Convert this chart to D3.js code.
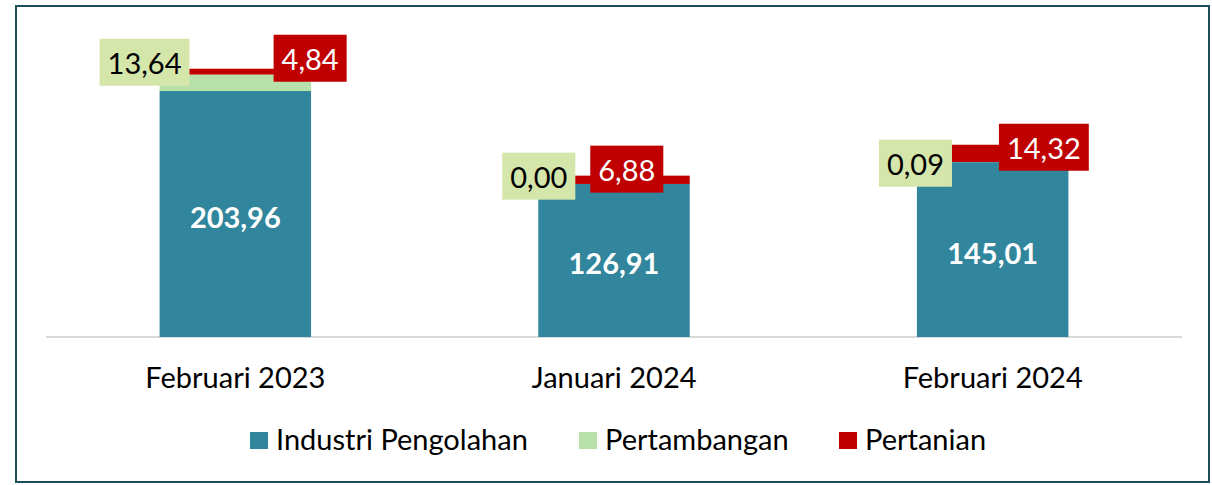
<!DOCTYPE html>
<html>
<head>
<meta charset="utf-8">
<script src="https://cdn.jsdelivr.net/npm/d3@7"></script>
<style>
  body { margin: 0; background: #fff; }
  svg text { font-family: Lato, "Open Sans", sans-serif; }
</style>
</head>
<body>
<div id="chart"></div>
<script>
// data
const categories = ["Februari 2023", "Januari 2024", "Februari 2024"];
const keys = ["Industri Pengolahan", "Pertambangan", "Pertanian"];
const industri = [203.96, 126.91, 145.01];
const pertambangan = [13.64, 0.00, 0.09];
const pertanian = [4.84, 6.88, 14.32];

const W = 1212, H = 485;
const svg = d3.select('#chart').append('svg')
    .attr('width', W)
    .attr('height', H);

// outer frame
svg.append('rect')
    .attr('x', 16).attr('y', 6)
    .attr('width', 1193).attr('height', 476)
    .attr('fill', '#fff')
    .attr('stroke', '#1e4d5c')
    .attr('stroke-width', 2);

const rows = categories.map((c, i) => ({
  cat: c,
  "Industri Pengolahan": industri[i],
  "Pertambangan": pertambangan[i],
  "Pertanian": pertanian[i]
}));

const stacked = d3.stack().keys(keys)(rows);

const x = d3.scaleBand()
    .domain(categories)
    .range([46, 1182])
    .paddingInner(0.6)
    .paddingOuter(0.3);

const y = d3.scaleLinear()
    .domain([0, 250])
    .range([337, 35.5]);

const color = d3.scaleOrdinal()
    .domain(keys)
    .range(["#31859c", "#b8e0a9", "#c00000"]);

// baseline
svg.append('line')
    .attr('x1', 46).attr('x2', 1182)
    .attr('y1', y(0)).attr('y2', y(0))
    .attr('stroke', '#d9d9d9').attr('stroke-width', 2);

svg.append('g')
  .selectAll('g')
  .data(stacked)
  .join('g')
    .attr('fill', d => color(d.key))
  .selectAll('rect')
  .data(d => d)
  .join('rect')
    .attr('x', d => x(d.data.cat))
    .attr('y', d => y(d[1]))
    .attr('width', x.bandwidth())
    .attr('height', d => y(d[0]) - y(d[1]));

// x axis labels
const xAxis = d3.axisBottom(x).tickSize(0).tickPadding(0);
const gx = svg.append('g')
    .attr('transform', `translate(0,${y(0)})`)
    .call(xAxis);
gx.select('.domain').remove();
gx.selectAll('text')
    .attr('dy', null)
    .attr('y', 51)
    .style('font-size', '29px')
    .style('fill', '#000')
    .style('font-family', 'Lato, sans-serif');

// value labels on the teal part
svg.append('g')
  .selectAll('text')
  .data(stacked[0])
  .join('text')
    .attr('x', d => x(d.data.cat) + x.bandwidth() / 2)
    .attr('y', d => (y(d[0]) + y(d[1])) / 2 + 14)
    .attr('text-anchor', 'middle')
    .attr('fill', '#fff')
    .style('font-size', '29px')
    .style('font-weight', 'bold')
    .text(d => d3.format('.2f')(d.data["Industri Pengolahan"]).replace('.', ','));

// callout labels (manually nudged like the original)
const fmt = v => d3.format('.2f')(v).replace('.', ',');
const greenNudge = [[-60, -6], [-36, 1], [-38, 19]];   // [box left from bar left, box center from segment top]
const redNudge = [[114, -10], [52, -6], [82, 3]];

function callout(i, val, nudge, bg, fg) {
  const bx = x(categories[i]);
  const top = y(industri[i] + pertambangan[i] + pertanian[i]);
  const t = svg.append('text')
      .attr('text-anchor', 'middle')
      .attr('fill', fg)
      .style('font-size', '29px')
      .text(fmt(val));
  const w = t.node().getComputedTextLength() + 16;
  const cx = bx + nudge[0] + w / 2;
  const cy = top + nudge[1];
  svg.insert('rect', () => t.node())
      .attr('x', cx - w / 2).attr('y', cy - 24)
      .attr('width', w).attr('height', 47)
      .attr('fill', bg);
  t.attr('x', cx).attr('y', cy + 11);
}

categories.forEach((c, i) => {
  callout(i, pertambangan[i], greenNudge[i], '#d5e6aa', '#000');
  callout(i, pertanian[i], redNudge[i], '#c00000', '#fff');
});

// legend
const legendX = [250, 579, 839];
const legend = svg.append('g')
  .selectAll('g')
  .data(keys)
  .join('g')
    .attr('transform', (d, i) => `translate(${legendX[i]},432)`);
legend.append('rect')
    .attr('width', 18).attr('height', 17)
    .attr('fill', d => color(d));
legend.append('text')
    .attr('x', 26).attr('y', 18)
    .style('font-size', '29px')
    .attr('fill', '#000')
    .text(d => d);
</script>
</body>
</html>
